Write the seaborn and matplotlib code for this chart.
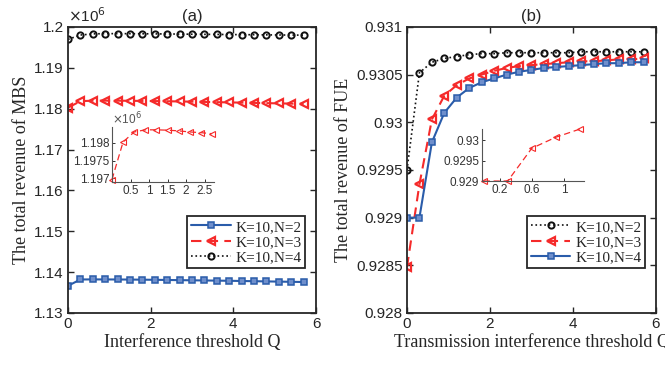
import numpy as np
import pandas as pd
import seaborn as sns
import matplotlib.pyplot as plt
from matplotlib.ticker import FuncFormatter

# interference threshold grid (both panels)
q = [0.0, 0.3, 0.6, 0.9, 1.2, 1.5, 1.8, 2.1, 2.4, 2.7,
     3.0, 3.3, 3.6, 3.9, 4.2, 4.5, 4.8, 5.1, 5.4, 5.7]

# (a) total revenue of MBS, x10^6
mbs_n2 = [1.13666, 1.13820, 1.13822, 1.13821, 1.13820, 1.13818, 1.13815, 1.13812, 1.13808, 1.13804,
          1.13800, 1.13796, 1.13792, 1.13788, 1.13783, 1.13778, 1.13773, 1.13768, 1.13763, 1.13758]
mbs_n3 = [1.18025, 1.18185, 1.18195, 1.18197, 1.18196, 1.18193, 1.18190, 1.18186, 1.18182, 1.18177,
          1.18172, 1.18166, 1.18160, 1.18154, 1.18148, 1.18142, 1.18136, 1.18130, 1.18124, 1.18118]
mbs_n4 = [1.19697, 1.19803, 1.19831, 1.19837, 1.19837, 1.19836, 1.19834, 1.19831, 1.19829, 1.19826,
          1.19823, 1.19820, 1.19818, 1.19815, 1.19812, 1.19810, 1.19807, 1.19804, 1.19802, 1.19800]

inset_q_a = [0.0, 0.3, 0.6, 0.9, 1.2, 1.5, 1.8, 2.1, 2.4, 2.7]
inset_mbs = [1.19697, 1.19803, 1.19831, 1.19837, 1.19837, 1.19836, 1.19834, 1.19831, 1.19829, 1.19826]

# (b) total revenue of FUE
fue_n2 = [0.92950, 0.93052, 0.93063, 0.93067, 0.93069, 0.93071, 0.93072, 0.93072, 0.93073, 0.93073,
          0.93073, 0.93073, 0.93073, 0.93073, 0.93074, 0.93074, 0.93074, 0.93074, 0.93074, 0.93074]
fue_n3 = [0.92848, 0.92935, 0.93003, 0.93028, 0.93039, 0.93046, 0.93050, 0.93054, 0.93057, 0.93059,
          0.93060, 0.93061, 0.93062, 0.93063, 0.93064, 0.93064, 0.93065, 0.93066, 0.93066, 0.93067]
fue_n4 = [0.92900, 0.92900, 0.92979, 0.93010, 0.93026, 0.93036, 0.93042, 0.93046, 0.93050, 0.93053,
          0.93055, 0.93057, 0.93058, 0.93059, 0.93060, 0.93061, 0.93062, 0.93062, 0.93063, 0.93063]

inset_q_b = [0.0, 0.3, 0.6, 0.9, 1.2]
inset_fue = [0.92900, 0.92900, 0.92980, 0.93007, 0.93027]

labels = ['K=10,N=2', 'K=10,N=3', 'K=10,N=4']

sns.set_theme(style='ticks')
plt.rcParams['font.family'] = ['Liberation Sans', 'DejaVu Sans']
plt.rcParams['axes.edgecolor'] = '#262626'
plt.rcParams['xtick.color'] = '#262626'
plt.rcParams['ytick.color'] = '#262626'

BLUE = '#2a5caa'
RED = '#f52a2a'
BLACK = '#111111'
SERIF = {'family': 'Liberation Serif'}

styles = {
    'blue': dict(color=BLUE, linestyle='-', linewidth=1.5, marker='s', markersize=4,
                 markerfacecolor='#6f8fcc', markeredgecolor=BLUE, markeredgewidth=1.1),
    'red': dict(color=RED, linestyle=(0, (5, 3)), linewidth=1.5, marker='<', markersize=5.5,
                markerfacecolor='none', markeredgecolor=RED, markeredgewidth=1.6),
    'black': dict(color=BLACK, linestyle=':', linewidth=1.2, marker='o', markersize=4.5,
                  markerfacecolor='none', markeredgecolor=BLACK, markeredgewidth=1.4),
}

fig = plt.figure(figsize=(6.65, 3.65), dpi=100)
ax1 = fig.add_axes([0.1023, 0.1425, 0.3729, 0.7836])
ax2 = fig.add_axes([0.612, 0.1425, 0.3744, 0.7836])

fmt = FuncFormatter(lambda v, p: '%g' % round(v, 6))


def style_main(ax):
    for s in ax.spines.values():
        s.set_visible(True)
        s.set_linewidth(1.3)
        s.set_color('#262626')
    ax.tick_params(direction='in', top=True, right=True, length=4, width=1, labelsize=11, pad=3)
    ax.yaxis.set_major_formatter(fmt)
    ax.set_xlim(0, 6)
    ax.set_xticks([0, 2, 4, 6])


def make_legend(ax):
    leg = ax.legend(loc='lower right', bbox_to_anchor=(0.956, 0.157), borderaxespad=0,
                    frameon=True, fancybox=False, framealpha=1, edgecolor='#262626',
                    prop={'family': 'Liberation Serif', 'size': 11},
                    handlelength=2.6, borderpad=0.25, labelspacing=0.1, handletextpad=0.3)
    leg.get_frame().set_linewidth(1.3)


def style_inset(ax):
    ax.set_facecolor('none')
    for k in ['top', 'right']:
        ax.spines[k].set_visible(False)
    for k in ['left', 'bottom']:
        ax.spines[k].set_linewidth(0.8)
        ax.spines[k].set_color('#555555')
    ax.tick_params(direction='in', length=2.5, width=0.7, labelsize=8.5, pad=2,
                   colors='#333333')
    ax.xaxis.set_major_formatter(fmt)
    ax.yaxis.set_major_formatter(fmt)


# ---- panel (a)
sns.lineplot(x=q, y=mbs_n2, ax=ax1, label=labels[0], **styles['blue'])
sns.lineplot(x=q, y=mbs_n3, ax=ax1, label=labels[1], **styles['red'])
sns.lineplot(x=q, y=mbs_n4, ax=ax1, label=labels[2], **styles['black'])
style_main(ax1)
ax1.set_ylim(1.13, 1.2)
ax1.set_yticks([1.13, 1.14, 1.15, 1.16, 1.17, 1.18, 1.19, 1.2])
ax1.set_xlabel('Interference threshold Q', fontsize=13, labelpad=2, **SERIF)
ax1.set_ylabel('The total revenue of MBS', fontsize=13, labelpad=3, **SERIF)
ax1.set_title('(a)', fontsize=12, pad=4)
ax1.text(0, 1.008, r'$\times$10$^{6}$', transform=ax1.transAxes, fontsize=11,
         ha='left', va='bottom', color='#262626')
make_legend(ax1)

ins1 = fig.add_axes([0.1684, 0.5014, 0.1534, 0.1507])
sns.lineplot(x=inset_q_a, y=inset_mbs, ax=ins1, color=RED, linestyle=(0, (5, 3)), linewidth=0.9,
             marker='<', markersize=5, markerfacecolor='none', markeredgecolor=RED,
             markeredgewidth=0.8, clip_on=False)
style_inset(ins1)
ins1.set_xlim(0, 2.75)
ins1.set_ylim(1.1969, 1.19845)
ins1.set_xticks([0.5, 1, 1.5, 2, 2.5])
ins1.set_yticks([1.197, 1.1975, 1.198])
ins1.text(0, 1.0, r'$\times$10$^{6}$', transform=ins1.transAxes, fontsize=8.5,
          ha='left', va='bottom', color='#555555')

# ---- panel (b)
sns.lineplot(x=q, y=fue_n2, ax=ax2, label=labels[0], **styles['black'])
sns.lineplot(x=q, y=fue_n3, ax=ax2, label=labels[1], **styles['red'])
sns.lineplot(x=q, y=fue_n4, ax=ax2, label=labels[2], **styles['blue'])
style_main(ax2)
ax2.set_ylim(0.928, 0.931)
ax2.set_yticks([0.928, 0.9285, 0.929, 0.9295, 0.93, 0.9305, 0.931])
ax2.set_xlabel('Transmission interference threshold Q', fontsize=13, labelpad=2, **SERIF)
ax2.set_ylabel('The total revenue of FUE', fontsize=13, labelpad=3, **SERIF)
ax2.set_title('(b)', fontsize=12, pad=4)
make_legend(ax2)

ins2 = fig.add_axes([0.7248, 0.504, 0.1534, 0.1425])
sns.lineplot(x=inset_q_b, y=inset_fue, ax=ins2, color=RED, linestyle=(0, (5, 3)), linewidth=0.9,
             marker='<', markersize=5, markerfacecolor='none', markeredgecolor=RED,
             markeredgewidth=0.8, clip_on=False)
style_inset(ins2)
ins2.set_xlim(-0.02, 1.25)
ins2.set_ylim(0.929, 0.93027)
ins2.set_xticks([0.2, 0.6, 1])
ins2.set_yticks([0.929, 0.9295, 0.93])

fig.savefig('out.png', dpi=100)
